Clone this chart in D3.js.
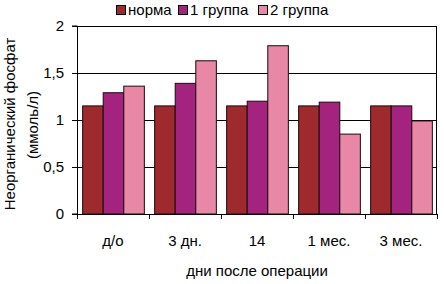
<!DOCTYPE html>
<html>
<head>
<meta charset="utf-8">
<script src="https://cdn.jsdelivr.net/npm/d3@7"></script>
<style>
    body { margin: 0; background: #fff; }
    text { font-family: "Liberation Sans", Arial, sans-serif; fill: #000; }
</style>
</head>
<body>
<div id="chart"></div>
<script>
// data
const categories = ["д/о", "3 дн.", "14", "1 мес.", "3 мес."];
const seriesNames = ["норма", "1 группа", "2 группа"];
const norma = [1.15, 1.15, 1.15, 1.15, 1.15];
const group1 = [1.29, 1.39, 1.20, 1.19, 1.15];
const group2 = [1.36, 1.63, 1.79, 0.85, 0.99];
const yTicks = [0, 0.5, 1, 1.5, 2];

const colors = ["#9e2a2e", "#a3237f", "#e887a6"];

let margin = {top: 26, right: 7, bottom: 70, left: 77};
let width = 444 - margin.left - margin.right;
let height = 284 - margin.top - margin.bottom;

let svg = d3.select("#chart").append("svg")
    .attr("width", 444)
    .attr("height", 284);

let g = svg.append("g")
    .attr("transform", `translate(${margin.left},${margin.top})`);

let x0 = d3.scaleBand()
    .domain(categories)
    .range([0, width])
    .paddingInner(0)
    .paddingOuter(0);

// gap width ~ 50% of a bar
let bw = x0.bandwidth() / 3.5;
let x1 = d3.scaleBand()
    .domain(seriesNames)
    .range([bw * 0.25, bw * 3.25]);

let y = d3.scaleLinear()
    .domain([0, 2])
    .range([height, 0]);

// gridlines
g.selectAll(".grid")
    .data(yTicks.slice(1))
    .enter()
    .append("line")
    .attr("x1", 0)
    .attr("x2", width)
    .attr("y1", d => Math.round(y(d)) + 0.5)
    .attr("y2", d => Math.round(y(d)) + 0.5)
    .attr("stroke", "#000")
    .attr("stroke-width", 1);

// right border
g.append("line")
    .attr("x1", width - 0.5).attr("x2", width - 0.5)
    .attr("y1", 0).attr("y2", height)
    .attr("stroke", "#000");

let table = categories.map((c, i) => ({cat: c, vals: [norma[i], group1[i], group2[i]]}));

let groups = g.selectAll(".cat")
    .data(table)
    .enter()
    .append("g")
    .attr("class", "cat")
    .attr("transform", d => `translate(${x0(d.cat)},0)`);

groups.selectAll("rect")
    .data(d => d.vals.map((v, k) => ({name: seriesNames[k], v: v, k: k})))
    .enter()
    .append("rect")
    .attr("x", d => x1(d.name) + 0.5)
    .attr("y", d => y(d.v))
    .attr("width", x1.bandwidth())
    .attr("height", d => height - y(d.v))
    .attr("fill", d => colors[d.k])
    .attr("stroke", "#1a0a0a")
    .attr("stroke-width", 1);

// y axis
let yAxis = d3.axisLeft(y)
    .tickValues(yTicks)
    .tickSize(5)
    .tickPadding(8)
    .tickFormat(d => String(d).replace(".", ","));

g.append("g")
    .attr("class", "y axis")
    .call(yAxis)
    .call(a => a.select(".domain").attr("d", `M-5,${height}H0.5V0H-5`))
    .selectAll("text")
    .style("font-size", "15px");

// x axis: ticks at category boundaries
let xAxis = g.append("g")
    .attr("class", "x axis")
    .attr("transform", `translate(0,${height})`);

xAxis.append("line")
    .attr("x1", 0).attr("x2", width)
    .attr("y1", 0.5).attr("y2", 0.5)
    .attr("stroke", "#000");

xAxis.selectAll(".tick")
    .data(categories.map(c => x0(c)).concat([width]))
    .enter()
    .append("line")
    .attr("x1", d => Math.round(d) + 0.5)
    .attr("x2", d => Math.round(d) + 0.5)
    .attr("y1", 0).attr("y2", 5)
    .attr("stroke", "#000");

xAxis.selectAll(".lbl")
    .data(categories)
    .enter()
    .append("text")
    .attr("x", d => x0(d) + x0.bandwidth() / 2)
    .attr("y", 32)
    .attr("text-anchor", "middle")
    .style("font-size", "15px")
    .text(d => d);

// axis titles
svg.append("text")
    .attr("x", margin.left + width / 2)
    .attr("y", 276)
    .attr("text-anchor", "middle")
    .style("font-size", "15px")
    .text("дни после операции");

svg.append("text")
    .attr("transform", "translate(15,124) rotate(-90)")
    .attr("text-anchor", "middle")
    .style("font-size", "15px")
    .text("Неорганический фосфат");

svg.append("text")
    .attr("transform", "translate(38,125) rotate(-90)")
    .attr("text-anchor", "middle")
    .style("font-size", "15px")
    .text("(ммоль/л)");

// legend
let legendX = [116, 178, 258];
let legend = svg.append("g");
seriesNames.forEach((s, k) => {
    legend.append("rect")
        .attr("x", legendX[k] + 0.5)
        .attr("y", 5.5)
        .attr("width", 9)
        .attr("height", 9)
        .attr("fill", colors[k])
        .attr("stroke", "#000");
    legend.append("text")
        .attr("x", legendX[k] + 12)
        .attr("y", 15)
        .style("font-size", "15px")
        .text(s);
});
</script>
</body>
</html>
